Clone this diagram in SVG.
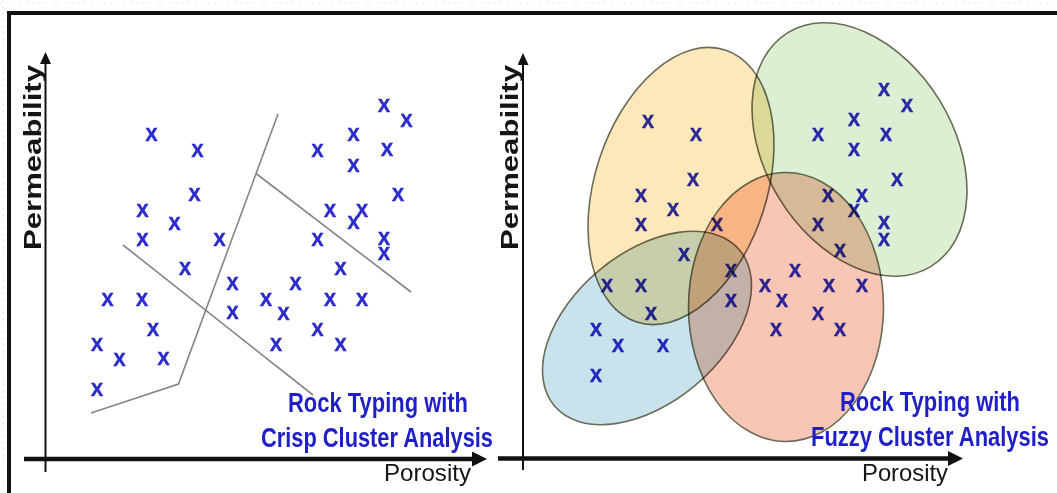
<svg xmlns="http://www.w3.org/2000/svg" width="1057" height="493" viewBox="0 0 1057 493">
<defs>
<style>
.x{font-family:"Liberation Sans",Arial,sans-serif;font-weight:bold;font-size:18px;fill:#2b2bcc;stroke:#2b2bcc;stroke-width:0.6;text-anchor:middle}
.sep{stroke:#858585;stroke-width:1.6;fill:none}
.ax{stroke:#111;fill:none}
.lbl{font-family:"Liberation Sans",Arial,sans-serif;fill:#151515}
.ttl{font-family:"Liberation Sans Narrow","Liberation Sans",Arial,sans-serif;font-weight:bold;font-size:27px;fill:#1f1fc8}
.cl{stroke:#6b6b58;stroke-width:1.6;mix-blend-mode:multiply}
</style>
<marker id="arrY" markerUnits="userSpaceOnUse" markerWidth="12" markerHeight="11" viewBox="0 0 12 11" refX="0" refY="5.5" orient="auto"><path d="M0,0 L12,5.5 L0,11 z" fill="#111"/></marker>
<marker id="arrX" markerUnits="userSpaceOnUse" markerWidth="15" markerHeight="15" viewBox="0 0 15 15" refX="0" refY="7.5" orient="auto"><path d="M0,0 L15,7.5 L0,15 z" fill="#111"/></marker>
</defs>
<rect width="1057" height="493" fill="#fff"/>
<g id="frame">
<line x1="0" y1="3" x2="1057" y2="3" stroke="#d3e0e8" stroke-width="1.2" stroke-dasharray="1.5 5"/>
<line x1="3" y1="0" x2="3" y2="493" stroke="#d3e0e8" stroke-width="1.2" stroke-dasharray="1.5 5"/>
<line x1="7" y1="13" x2="1057" y2="13" stroke="#111" stroke-width="4"/>
<line x1="9" y1="11" x2="9" y2="493" stroke="#111" stroke-width="4"/>
</g>

<g id="crisp-panel">
<g id="crisp-axes">
<line class="ax" x1="45.5" y1="472" x2="45.5" y2="64" stroke-width="2" marker-end="url(#arrY)"/>
<line class="ax" x1="24" y1="459" x2="472" y2="459" stroke-width="4.5" marker-end="url(#arrX)"/>
<text class="lbl" font-weight="bold" font-size="24.5" textLength="185" lengthAdjust="spacingAndGlyphs" transform="translate(41,250) rotate(-90)">Permeability</text>
<text class="lbl" x="384" y="481" font-size="24" textLength="87" lengthAdjust="spacingAndGlyphs">Porosity</text>
</g>
<g id="crisp-boundaries">
<polyline class="sep" points="278,114 178.5,384 91,413"/>
<line class="sep" x1="256" y1="173.5" x2="411" y2="292"/>
<line class="sep" x1="123" y1="245" x2="313" y2="395"/>
</g>
<g id="crisp-points">
<text class="x" x="151.5" y="141">X</text>
<text class="x" x="197.5" y="157">X</text>
<text class="x" x="194.5" y="201">X</text>
<text class="x" x="142.5" y="217">X</text>
<text class="x" x="174.5" y="230">X</text>
<text class="x" x="142.5" y="246">X</text>
<text class="x" x="219.5" y="246">X</text>
<text class="x" x="317.5" y="157">X</text>
<text class="x" x="353.5" y="141">X</text>
<text class="x" x="353.5" y="171.5">X</text>
<text class="x" x="384" y="111.5">X</text>
<text class="x" x="406.5" y="127">X</text>
<text class="x" x="387" y="156">X</text>
<text class="x" x="398" y="201">X</text>
<text class="x" x="330" y="217">X</text>
<text class="x" x="362" y="217">X</text>
<text class="x" x="353.5" y="229">X</text>
<text class="x" x="317.5" y="246">X</text>
<text class="x" x="384" y="245">X</text>
<text class="x" x="384" y="260">X</text>
<text class="x" x="340.5" y="275">X</text>
<text class="x" x="185" y="275">X</text>
<text class="x" x="107.5" y="306">X</text>
<text class="x" x="142" y="306">X</text>
<text class="x" x="153" y="335.5">X</text>
<text class="x" x="97" y="350.5">X</text>
<text class="x" x="119.5" y="366">X</text>
<text class="x" x="163.5" y="365">X</text>
<text class="x" x="97" y="396">X</text>
<text class="x" x="232.5" y="290">X</text>
<text class="x" x="232.5" y="319">X</text>
<text class="x" x="266" y="306">X</text>
<text class="x" x="283.5" y="320">X</text>
<text class="x" x="295.5" y="290">X</text>
<text class="x" x="276" y="350.5">X</text>
<text class="x" x="330" y="306">X</text>
<text class="x" x="362" y="306">X</text>
<text class="x" x="317.5" y="335.5">X</text>
<text class="x" x="340.5" y="350.5">X</text>
</g>
<g id="crisp-title">
<text class="ttl" x="288" y="412" textLength="180" lengthAdjust="spacingAndGlyphs">Rock Typing with</text>
<text class="ttl" x="261" y="446.5" textLength="232" lengthAdjust="spacingAndGlyphs">Crisp Cluster Analysis</text>
</g>
</g>

<g id="fuzzy-panel">
<g id="fuzzy-axes">
<line class="ax" x1="523" y1="470" x2="523" y2="65" stroke-width="2" marker-end="url(#arrY)"/>
<line class="ax" x1="498" y1="458.5" x2="948" y2="458.5" stroke-width="4.5" marker-end="url(#arrX)"/>
<text class="lbl" font-weight="bold" font-size="24.5" textLength="185" lengthAdjust="spacingAndGlyphs" transform="translate(518,250) rotate(-90)">Permeability</text>
<text class="lbl" x="862" y="481" font-size="24" textLength="86" lengthAdjust="spacingAndGlyphs">Porosity</text>
</g>
<g id="fuzzy-points">
<text class="x" x="648" y="127.5">X</text>
<text class="x" x="696" y="140.5">X</text>
<text class="x" x="693" y="185.5">X</text>
<text class="x" x="641" y="201.5">X</text>
<text class="x" x="673" y="215.5">X</text>
<text class="x" x="641" y="230.5">X</text>
<text class="x" x="717" y="230.5">X</text>
<text class="x" x="884" y="95.5">X</text>
<text class="x" x="907" y="111.5">X</text>
<text class="x" x="854" y="125.5">X</text>
<text class="x" x="818" y="140.5">X</text>
<text class="x" x="886" y="140.5">X</text>
<text class="x" x="854" y="155.5">X</text>
<text class="x" x="897" y="185.5">X</text>
<text class="x" x="828" y="201.5">X</text>
<text class="x" x="862" y="201.5">X</text>
<text class="x" x="854" y="216.5">X</text>
<text class="x" x="818" y="230.5">X</text>
<text class="x" x="884" y="228.5">X</text>
<text class="x" x="884" y="245.5">X</text>
<text class="x" x="840" y="256.5">X</text>
<text class="x" x="684" y="260.5">X</text>
<text class="x" x="607" y="291.5">X</text>
<text class="x" x="641" y="291.5">X</text>
<text class="x" x="651" y="319.5">X</text>
<text class="x" x="596" y="335.5">X</text>
<text class="x" x="618" y="351.5">X</text>
<text class="x" x="663" y="351.5">X</text>
<text class="x" x="596" y="381.5">X</text>
<text class="x" x="731" y="276.5">X</text>
<text class="x" x="731" y="306.5">X</text>
<text class="x" x="765" y="291.5">X</text>
<text class="x" x="782" y="306.5">X</text>
<text class="x" x="795" y="276.5">X</text>
<text class="x" x="776" y="335.5">X</text>
<text class="x" x="829" y="291.5">X</text>
<text class="x" x="862" y="291.5">X</text>
<text class="x" x="818" y="319.5">X</text>
<text class="x" x="840" y="335.5">X</text>
</g>
<g id="fuzzy-clusters">
<ellipse id="cluster-orange" class="cl" fill="#fde8b9" cx="0" cy="0" rx="86" ry="143" transform="translate(681,186) rotate(18)"/>
<ellipse id="cluster-green" class="cl" fill="#dcefd2" cx="0" cy="0" rx="94" ry="137" transform="translate(859.5,149.5) rotate(-31.5)"/>
<ellipse id="cluster-blue" class="cl" fill="#c8e3ec" cx="0" cy="0" rx="121" ry="75" transform="translate(647,328) rotate(-40)"/>
<ellipse id="cluster-pink" class="cl" fill="#f9c6b6" cx="786" cy="307" rx="97.5" ry="134.5"/>
</g>
<g id="fuzzy-title">
<text class="ttl" x="840" y="411" textLength="180" lengthAdjust="spacingAndGlyphs">Rock Typing with</text>
<text class="ttl" x="811" y="445.5" textLength="238" lengthAdjust="spacingAndGlyphs">Fuzzy Cluster Analysis</text>
</g>
</g>
</svg>
